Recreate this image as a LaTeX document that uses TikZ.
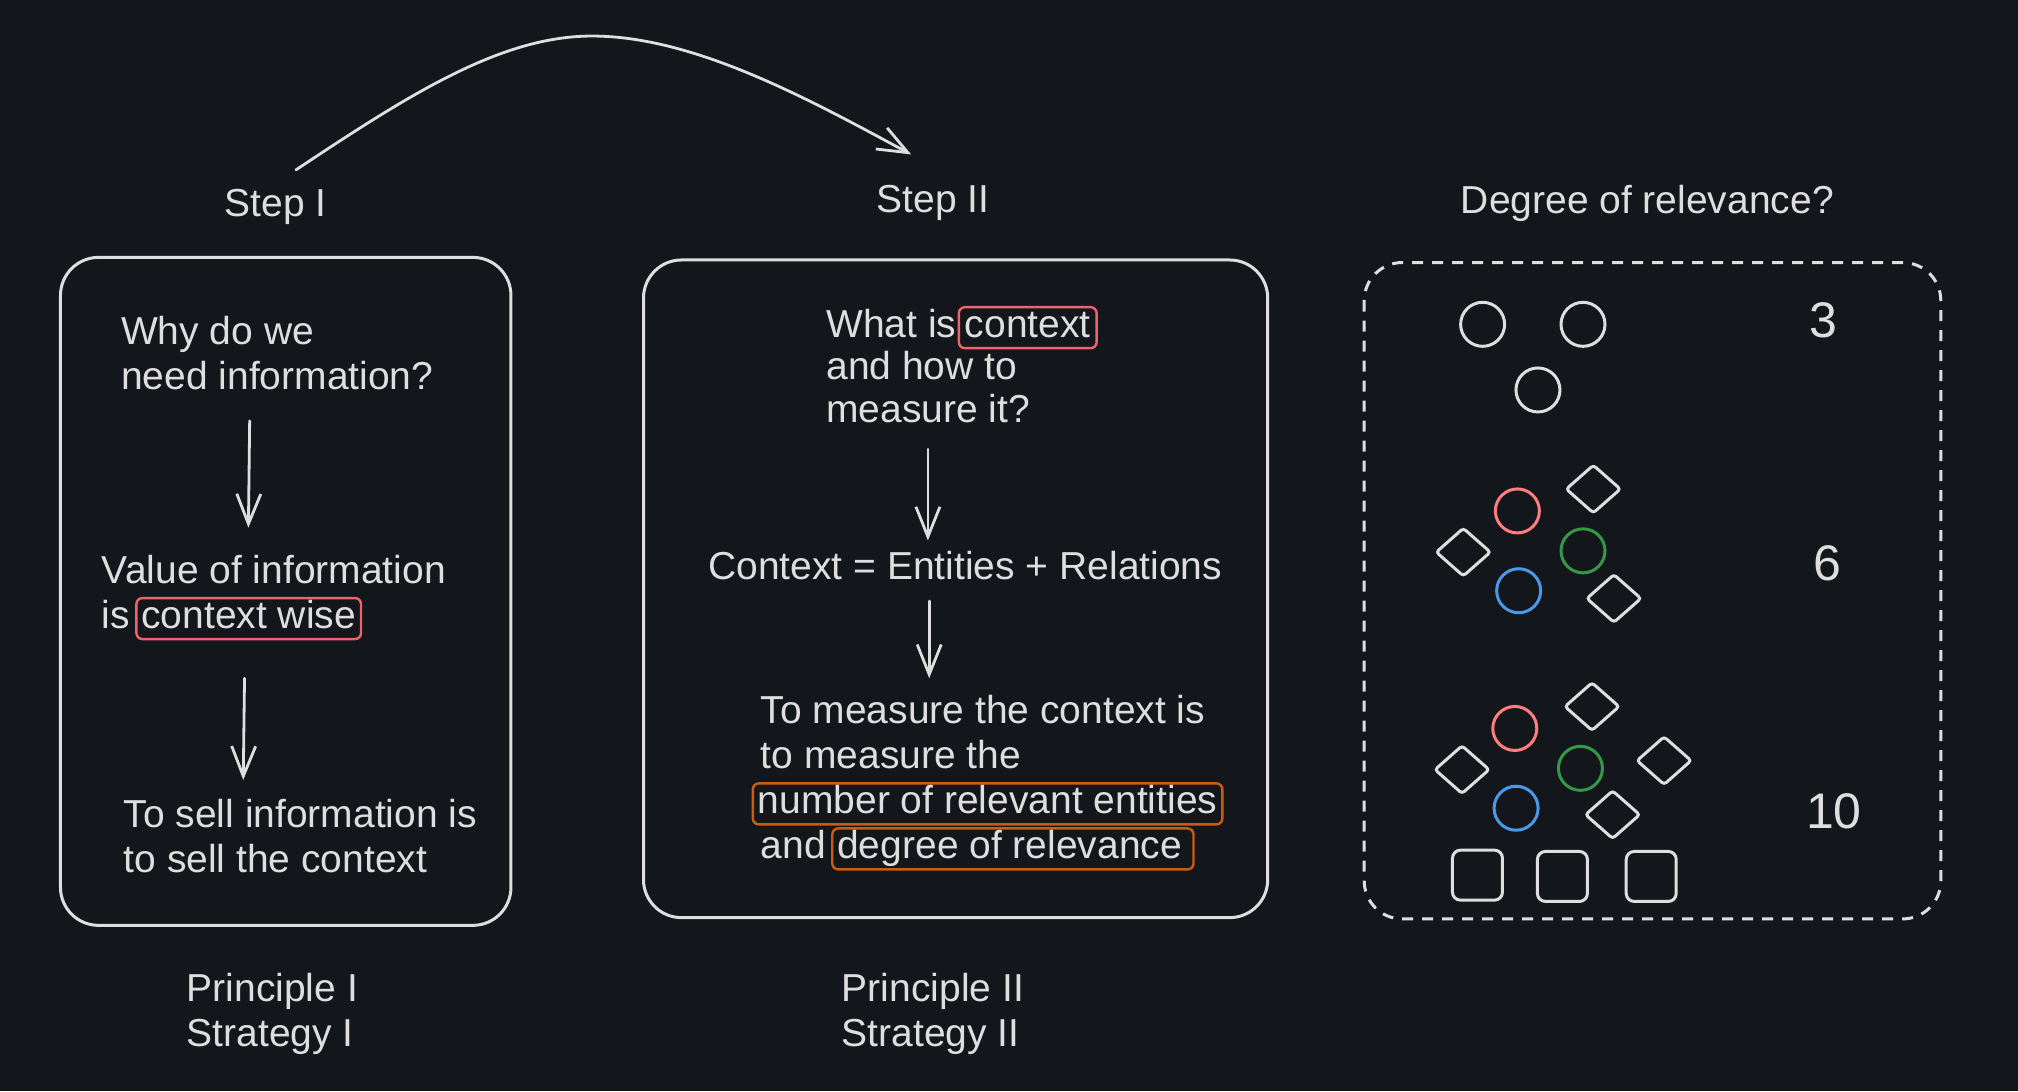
\documentclass[tikz,border=0pt]{standalone}
\usepackage{fontspec}
\setmainfont{Liberation Sans}
\usetikzlibrary{arrows.meta}
\definecolor{bg}{RGB}{19,22,27}
\definecolor{ink}{RGB}{222,222,222}
\definecolor{hlred}{RGB}{240,98,108}
\definecolor{hlorange}{RGB}{204,92,18}
\definecolor{cred}{RGB}{255,125,125}
\definecolor{cgreen}{RGB}{52,152,72}
\definecolor{cblue}{RGB}{74,152,232}
\tikzset{
  txt/.style={text=ink, inner sep=0pt, anchor=base west, font=\fontsize{39}{48}\selectfont},
  ctxt/.style={txt, anchor=base},
  numtxt/.style={text=ink, inner sep=0pt, font=\fontsize{50}{60}\selectfont},
  hl/.style={draw=#1, line width=2.4pt, rounded corners=6pt, text=ink, anchor=base west,
    inner xsep=5pt, inner ysep=3pt, text height=27pt, text depth=8pt,
    font=\fontsize{39}{48}\selectfont},
  frame/.style={draw=ink, line width=3pt, rounded corners=38pt},
  dframe/.style={draw=ink, line width=3pt, rounded corners=38pt, dash pattern=on 11pt off 9pt},
  arr/.style={draw=ink, line width=2.8pt, line cap=round,
    -{Straight Barb[length=30pt,width=24pt,line width=2.8pt]}},
  ring/.style={draw=#1, line width=3pt, circle, minimum size=44pt, inner sep=0pt},
  dia/.style={draw=ink, line width=3pt, rounded corners=3pt},
  sq/.style={draw=ink, line width=3pt, rounded corners=8pt, minimum size=50pt, inner sep=0pt}
}
\begin{document}
\begin{tikzpicture}[x=1.287pt,y=-1.287pt]
\fill[bg] (0,0) rectangle (1568,848);
\useasboundingbox (0,0) rectangle (1568,848);

% top arc
\coordinate (arcS) at (230,132);
\coordinate (arcE) at (708,120);
\draw[arr] (arcS) .. controls (320,72) and (390,28) .. (460,28)
  .. controls (540,28) and (630,78) .. (arcE);

% headings
\node[ctxt] (step1) at (214,168) {Step I};
\node[ctxt] (step2) at (725,165) {Step II};
\node[ctxt] (deg) at (1280,166) {Degree of relevance?};

% frames
\draw[frame] (47,200) rectangle (397,719);
\draw[frame] (500,202) rectangle (985,713);
\draw[dframe] (1060,204) rectangle (1508,714);

% box 1
\node[txt] (b1l1) at (94,268) {Why do we};
\node[txt] (b1l2) at (94,303) {need information?};
\node[txt] (b1l3) at (79,453) {Value of information};
\node[txt] (b1l4) at (79,488) {is};
\node[hl=hlred] (b1h) at ([xshift=5pt]b1l4.base east) {context wise};
\node[txt] (b1l5) at (96,643) {To sell information is};
\node[txt] (b1l6) at (96,678) {to sell the context};
\coordinate (a1s) at (194,327);
\coordinate (a1e) at (193,410);
\coordinate (a2s) at (190,527);
\coordinate (a2e) at (189,606);
\draw[arr] (a1s) -- (a1e);
\draw[arr] (a2s) -- (a2e);

% box 2
\node[txt] (b2l1) at (642,262) {What is};
\node[hl=hlred, inner xsep=6pt] (b2h) at ([xshift=1pt]b2l1.base east) {context};
\node[txt] (b2l2) at (642,295) {and how to};
\node[txt] (b2l3) at (642,328) {measure it?};
\node[ctxt] (b2m) at (750,450) {Context = Entities + Relations};
\node[txt] (b2l4) at (591,562) {To measure the context is};
\node[txt] (b2l5) at (591,597) {to measure the};
\node[hl=hlorange] (b2h2) at (584,632) {number of relevant entities};
\node[txt] (b2l7) at (591,667) {and};
\node[hl=hlorange] (b2h3) at ([xshift=5pt]b2l7.base east) {degree of relevance\,};
\coordinate (a3s) at (721,349);
\coordinate (a3e) at (721,420);
\coordinate (a4s) at (722,467);
\coordinate (a4e) at (722,527);
\draw[arr] (a3s) -- (a3e);
\draw[arr] (a4s) -- (a4e);

% box 3 : group 3
\node[ring=ink] (c1) at (1152,252) {};
\node[ring=ink] (c2) at (1230,252) {};
\node[ring=ink] (c3) at (1195,303) {};
\node[numtxt] (n3) at (1417,249) {3};

% group 6
\node[ring=cred] (c4) at (1179,397) {};
\node[ring=cgreen] (c5) at (1230,428) {};
\node[ring=cblue] (c6) at (1180,459) {};
\foreach \p/\q in {1137/429, 1238/380, 1254/465}{
  \draw[dia] (\p-21,\q) -- (\p,\q-18.5) -- (\p+21,\q) -- (\p,\q+18.5) -- cycle;
}
\node[numtxt] (n6) at (1420,438) {6};

% group 10
\node[ring=cred] (c7) at (1177,566) {};
\node[ring=cgreen] (c8) at (1228,597) {};
\node[ring=cblue] (c9) at (1178,628) {};
\foreach \p/\q in {1136/598, 1237/549, 1293/591, 1253/633}{
  \draw[dia] (\p-21,\q) -- (\p,\q-18.5) -- (\p+21,\q) -- (\p,\q+18.5) -- cycle;
}
\node[sq] (s1) at (1148,680) {};
\node[sq] (s2) at (1214,681) {};
\node[sq] (s3) at (1283,681) {};
\node[numtxt] (n10) at (1425,630) {10};

% footers
\node[txt] (p1) at (145,778) {Principle I};
\node[txt] (st1) at (145,813) {Strategy I};
\node[txt] (p2) at (654,778) {Principle II};
\node[txt] (st2) at (654,813) {Strategy II};
\end{tikzpicture}
\end{document}
